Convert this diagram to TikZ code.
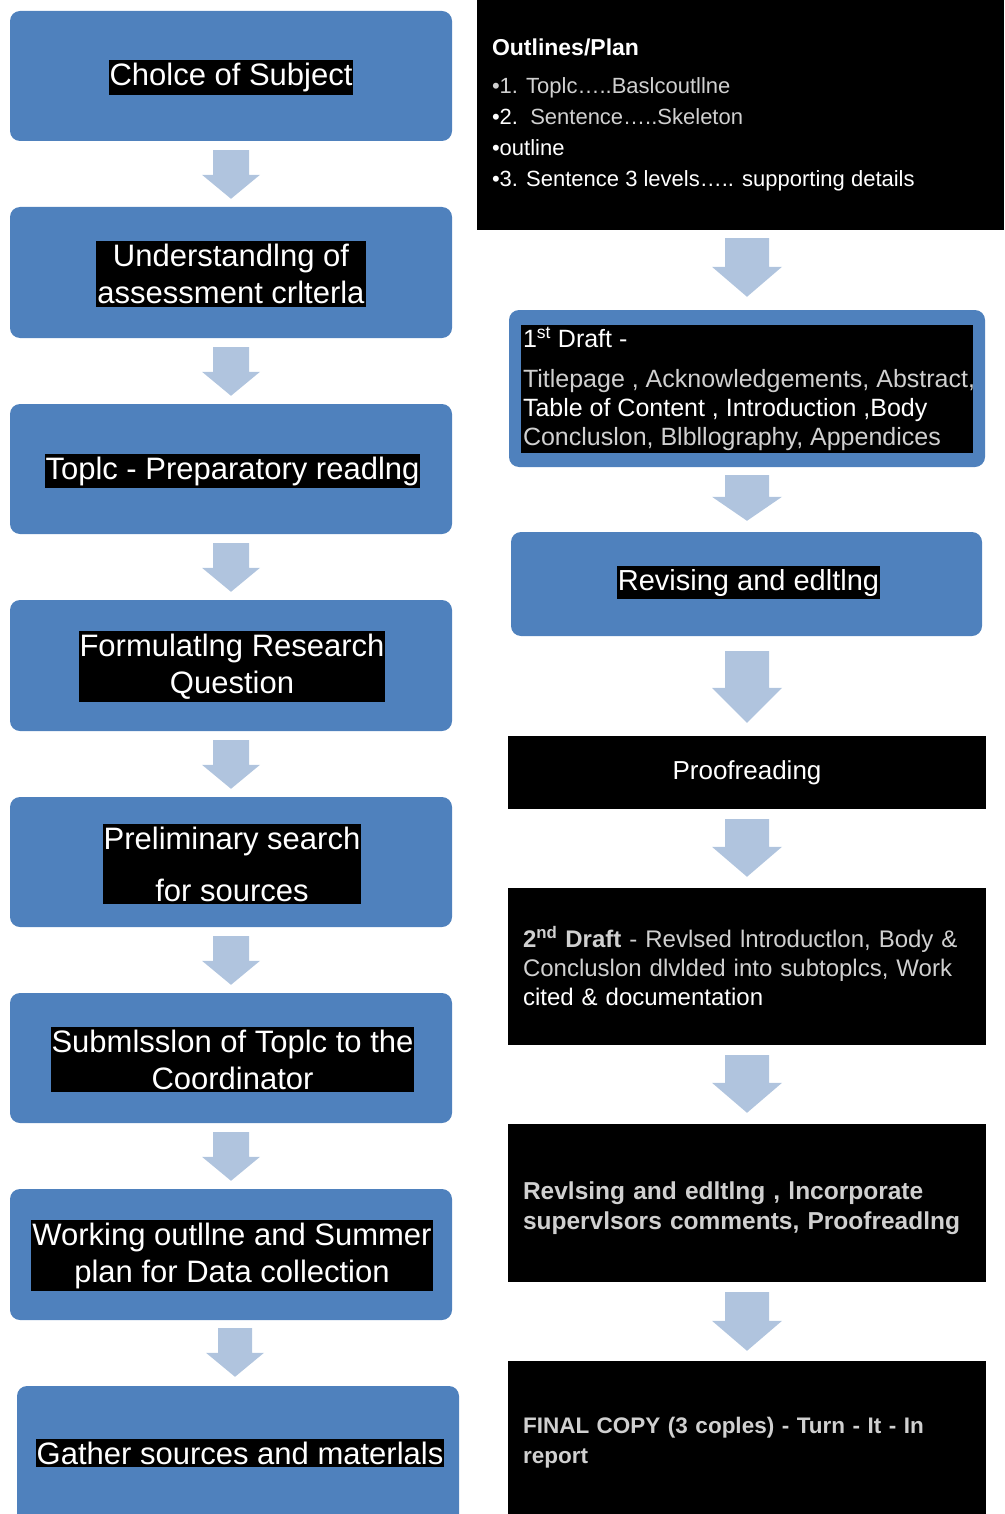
\documentclass[tikz,border=0pt]{standalone}
\usepackage{fontspec}
\setmainfont{Liberation Sans}
\usetikzlibrary{calc}
\definecolor{boxblue}{HTML}{4F81BD}
\definecolor{arrowblue}{HTML}{B0C4DE}
\definecolor{softgray}{HTML}{D0D0D0}
\newcommand\blockarrow[5]{%
  \fill[arrowblue] let \p1=(#1), \p2=(#2) in
    (\x1-#3,\y1) -- (\x1+#3,\y1) -- (\x1+#3,\y2+#5) -- (\x1+#4,\y2+#5)
    -- (\x1,\y2) -- (\x1-#4,\y2+#5) -- (\x1-#3,\y2+#5) -- cycle;}
\tikzset{
  bluebox/.style={fill=boxblue, rounded corners=10pt, inner sep=0pt},
  hl/.style={fill=black, text=white, inner xsep=1pt, inner ysep=3pt, align=center,
             font=\fontsize{31}{37}\selectfont},
  blackbox/.style={fill=black, text=white, inner sep=0pt},
  rtext/.style={blackbox, minimum width=478pt, text width=448pt, align=left},
}
\begin{document}
\begin{tikzpicture}[x=1pt,y=-1pt]
\useasboundingbox (0,0) rectangle (1004,1514);
% ---------- left column ----------
\node[bluebox, minimum width=442pt, minimum height=130pt] (L1) at (231,76) {};
\node[bluebox, minimum width=442pt, minimum height=131pt] (L2) at (231,272.5) {};
\node[bluebox, minimum width=442pt, minimum height=130pt] (L3) at (231,469) {};
\node[bluebox, minimum width=442pt, minimum height=131pt] (L4) at (231,665.5) {};
\node[bluebox, minimum width=442pt, minimum height=130pt] (L5) at (231,862) {};
\node[bluebox, minimum width=442pt, minimum height=130pt] (L6) at (231,1058) {};
\node[bluebox, minimum width=442pt, minimum height=131pt] (L7) at (231,1254.5) {};
\node[bluebox, minimum width=442pt, minimum height=150pt] (L8) at (238,1461) {};

\node[hl] (L1t) at ([yshift=-1.5pt]L1.center) {Cholce of Subject};
\node[hl] (L2t) at ([yshift=-1.5pt]L2.center) {Understandlng of\\assessment crlterla};
\node[hl] (L3t) at ([xshift=1.5pt,yshift=-2pt]L3.center) {Toplc - Preparatory readlng};
\node[hl] (L4t) at ([xshift=1pt,yshift=-1pt]L4.center) {Formulatlng Research\\Question};
\node[hl] (L5t) at ([xshift=1pt,yshift=-2pt]L5.center) {Preliminary search\\[15pt]for sources};
\node[hl] (L6t) at ([xshift=1.5pt,yshift=-1.5pt]L6.center) {Submlsslon of Toplc to the\\Coordinator};
\node[hl] (L7t) at ([xshift=1pt,yshift=-1pt]L7.center) {Working outllne and Summer\\plan for Data collection};
\node[hl] (L8t) at (240,1453) {Gather sources and materlals};

\blockarrow{[yshift=-9pt]L1.south}{[yshift=8pt]L2.north}{18pt}{29pt}{24pt}
\blockarrow{[yshift=-9pt]L2.south}{[yshift=8pt]L3.north}{18pt}{29pt}{24pt}
\blockarrow{[yshift=-9pt]L3.south}{[yshift=8pt]L4.north}{18pt}{29pt}{24pt}
\blockarrow{[yshift=-9pt]L4.south}{[yshift=8pt]L5.north}{18pt}{29pt}{24pt}
\blockarrow{[yshift=-9pt]L5.south}{[yshift=8pt]L6.north}{18pt}{29pt}{24pt}
\blockarrow{[yshift=-9pt]L6.south}{[yshift=8pt]L7.north}{18pt}{29pt}{24pt}
\blockarrow{[xshift=4pt,yshift=-8pt]L7.south}{[yshift=9pt]L8.north}{17pt}{29pt}{24pt}

% ---------- right column ----------
\node[blackbox, minimum width=527pt, minimum height=230pt] (R1) at (740.5,115) {};
\node[text=white, align=left, anchor=west, inner sep=0pt,
      font=\fontsize{22}{31}\selectfont] (R1t) at ([xshift=15pt,yshift=0pt]R1.west)
 {{\bfseries\fontsize{23}{28}\selectfont Outlines/Plan}\\[7pt]
  {\color{softgray}•1. Toplc…..Baslcoutllne}\\
  •2.\ \ {\color{softgray}Sentence…..Skeleton}\\
  •outline\\
  •3. Sentence 3 levels….. supporting details};

\node[bluebox, minimum width=476pt, minimum height=157pt] (R2) at (747,388.5) {};
\node[blackbox, minimum width=452pt, minimum height=128pt] (R2in) at (747,389) {};
\node[text=white, align=left, anchor=north west, inner sep=0pt,
      font=\fontsize{25}{29}\selectfont] (R2t) at ([xshift=2pt,yshift=-2pt]R2in.north west)
 {1\textsuperscript{st} Draft -\\[11pt]
  {\color{softgray}Titlepage , Acknowledgements, Abstract,}\\
  Table of Content , Introduction ,Body\\
  {\color{softgray}Concluslon, Blbllography, Appendices}};

\node[bluebox, minimum width=471pt, minimum height=104pt] (R3) at (746.5,584) {};
\node[hl, font=\fontsize{29}{35}\selectfont] (R3t) at ([xshift=2pt,yshift=1.5pt]R3.center) {Revising and edltlng};

\node[blackbox, minimum width=478pt, minimum height=73pt, font=\fontsize{26}{30}\selectfont]
  (R4) at (747,772.5) {Proofreading};

\node[rtext, minimum height=157pt, font=\fontsize{24}{29}\selectfont] (R5) at (747,966.5)
 {{\color{softgray}\textbf{2\textsuperscript{nd} Draft} - Revlsed lntroductlon, Body \&\\
  Concluslon dlvlded into subtoplcs, Work}\\
  cited \& documentation};

\node[rtext, minimum height=158pt, font=\bfseries\fontsize{24.5}{30}\selectfont] (R6) at (747,1203)
 {{\color{softgray}\rule{0pt}{28.5pt}Revlsing and edltlng , lncorporate\\
  supervlsors comments, Proofreadlng}};

\node[rtext, minimum height=153pt, font=\bfseries\fontsize{22.5}{30}\selectfont] (R7) at (747,1437.5)
 {{\color{softgray}\rule{0pt}{26pt}FINAL COPY (3 coples) - Turn - It - In\\report}};

\blockarrow{[xshift=6.5pt,yshift=-8pt]R1.south}{[yshift=13pt]R2.north}{22pt}{35pt}{30pt}
\blockarrow{[yshift=-8pt]R2.south}{[yshift=11pt]R3.north}{22pt}{35pt}{24pt}
\blockarrow{[xshift=0.5pt,yshift=-15pt]R3.south}{[yshift=13pt]R4.north}{22pt}{35pt}{35pt}
\blockarrow{[yshift=-10pt]R4.south}{[yshift=11pt]R5.north}{22pt}{35pt}{30pt}
\blockarrow{[yshift=-10pt]R5.south}{[yshift=11pt]R6.north}{22pt}{35pt}{30pt}
\blockarrow{[yshift=-10pt]R6.south}{[yshift=10pt]R7.north}{22pt}{35pt}{30pt}
\end{tikzpicture}
\end{document}
